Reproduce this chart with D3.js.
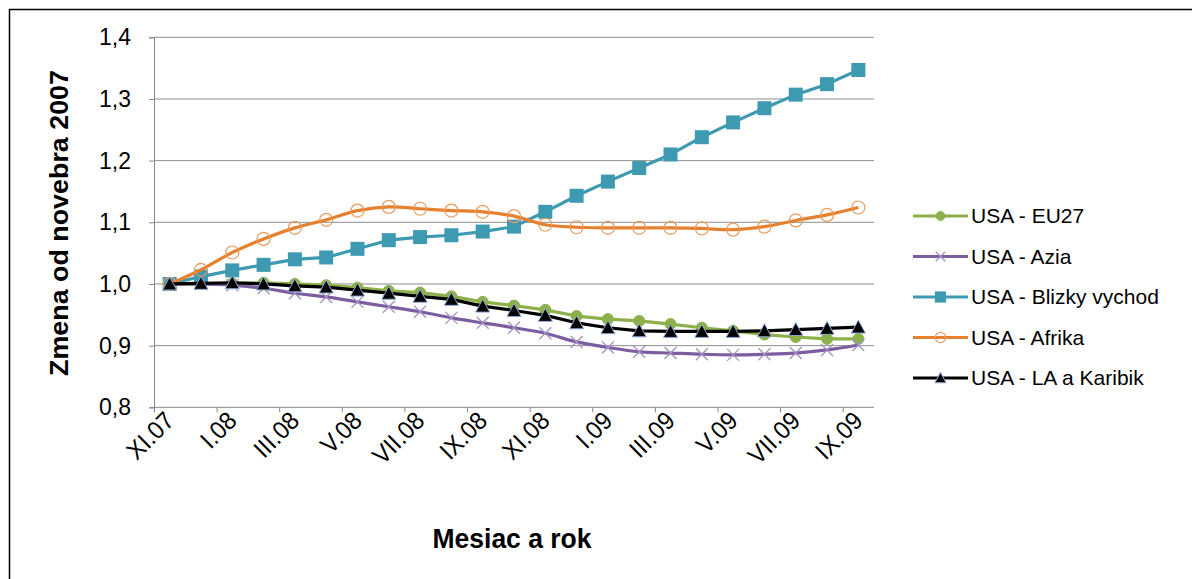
<!DOCTYPE html>
<html>
<head>
<meta charset="utf-8">
<script src="https://cdn.jsdelivr.net/npm/d3@7"></script>
<style>
  body { margin: 0; background: #fff; }
  svg { display: block; font-family: "Liberation Sans", Arial, sans-serif; }
</style>
</head>
<body>
<div id="chart"></div>
<script>
// months XI.07 .. IX.09
const months = ["XI.07", "XII.07", "I.08", "II.08", "III.08", "IV.08", "V.08", "VI.08",
  "VII.08", "VIII.08", "IX.08", "X.08", "XI.08", "XII.08", "I.09", "II.09", "III.09",
  "IV.09", "V.09", "VI.09", "VII.09", "VIII.09", "IX.09"];

const eu27 = [1.000, 1.000, 1.001, 1.002, 1.000, 0.998, 0.994, 0.989, 0.986, 0.980,
  0.971, 0.965, 0.958, 0.948, 0.943, 0.940, 0.935, 0.929, 0.924, 0.918, 0.914, 0.911, 0.911];
const azia = [1.000, 1.000, 0.998, 0.993, 0.985, 0.979, 0.971, 0.963, 0.955, 0.945,
  0.937, 0.929, 0.920, 0.906, 0.897, 0.890, 0.888, 0.886, 0.885, 0.886, 0.888, 0.893, 0.901];
const blizkyVychod = [1.000, 1.012, 1.022, 1.031, 1.040, 1.043, 1.057, 1.071, 1.076, 1.079,
  1.085, 1.093, 1.117, 1.143, 1.166, 1.188, 1.210, 1.238, 1.262, 1.285, 1.307, 1.324, 1.347];
const afrika = [1.000, 1.023, 1.051, 1.073, 1.091, 1.104, 1.119, 1.125, 1.122, 1.119,
  1.117, 1.110, 1.096, 1.092, 1.091, 1.091, 1.091, 1.090, 1.088, 1.093, 1.103, 1.112, 1.124];
const laKaribik = [1.000, 1.001, 1.002, 1.000, 0.997, 0.995, 0.990, 0.985, 0.980, 0.975,
  0.964, 0.957, 0.949, 0.937, 0.929, 0.924, 0.923, 0.923, 0.923, 0.924, 0.926, 0.928, 0.930];

const yTicks = [0.8, 0.9, 1.0, 1.1, 1.2, 1.3, 1.4];

const series = [
  { name: "USA - EU27", values: eu27, color: "#8cb04a", marker: "circle", smooth: false },
  { name: "USA - Azia", values: azia, color: "#7b5da0", marker: "cross", smooth: true },
  { name: "USA - Blizky vychod", values: blizkyVychod, color: "#3e9ab1", marker: "square", smooth: false },
  { name: "USA - Afrika", values: afrika, color: "#e5802f", marker: "ring", smooth: true },
  { name: "USA - LA a Karibik", values: laKaribik, color: "#000000", marker: "triangle", smooth: false }
];

const width = 1192, height = 579;
const svg = d3.select("#chart").append("svg")
  .attr("width", width)
  .attr("height", height);

// outer frame (right and bottom edges fall outside the picture)
svg.append("rect")
  .attr("x", 9.5).attr("y", 9.5)
  .attr("width", 1200).attr("height", 600)
  .attr("fill", "none")
  .attr("stroke", "#000")
  .attr("stroke-width", 1.5);

const x = d3.scaleBand().domain(months).range([154, 874]).padding(0);
const cx = (i) => x(months[i]) + x.bandwidth() / 2;
const y = d3.scaleLinear().domain([0.8, 1.4]).range([407.3, 37.3]);

// gridlines
svg.append("g")
  .selectAll("line")
  .data(yTicks.slice(1))
  .enter()
  .append("line")
  .attr("x1", 154).attr("x2", 874)
  .attr("y1", (d) => y(d)).attr("y2", (d) => y(d))
  .attr("stroke", "#8e8e8e")
  .attr("stroke-width", 1);

// y axis
const yAxis = svg.append("g")
  .attr("transform", "translate(154,0)")
  .call(d3.axisLeft(y)
    .tickValues(yTicks)
    .tickSize(5)
    .tickPadding(18)
    .tickFormat((d) => d3.format(".1f")(d).replace(".", ",")));
yAxis.select(".domain").attr("stroke", "#868686");
yAxis.selectAll(".tick line").attr("stroke", "#868686");
yAxis.selectAll("text")
  .attr("font-size", 23)
  .attr("fill", "#000")
  .attr("font-family", "Liberation Sans, Arial, sans-serif");

// x axis line + tick marks at every second category boundary
svg.append("line")
  .attr("x1", 154).attr("x2", 874)
  .attr("y1", y(0.8)).attr("y2", y(0.8))
  .attr("stroke", "#868686");

const labelIdx = d3.range(0, months.length, 2);
svg.append("g")
  .selectAll("line")
  .data(labelIdx)
  .enter()
  .append("line")
  .attr("x1", (i) => x(months[i]) + 0.5)
  .attr("x2", (i) => x(months[i]) + 0.5)
  .attr("y1", y(0.8)).attr("y2", y(0.8) + 5)
  .attr("stroke", "#868686");

// month labels, slightly squeezed along the baseline
svg.append("g")
  .selectAll("text")
  .data(labelIdx)
  .enter()
  .append("text")
  .attr("transform", (i) => `translate(${cx(i) + 6},${y(0.8) + 15}) rotate(-45) scale(0.94,1)`)
  .attr("text-anchor", "end")
  .attr("font-size", 25)
  .attr("fill", "#000")
  .text((i) => months[i]);

// axis titles
svg.append("text")
  .attr("transform", `translate(68,223) rotate(-90)`)
  .attr("text-anchor", "middle")
  .attr("font-size", 26)
  .attr("font-weight", "bold")
  .attr("textLength", 306)
  .attr("lengthAdjust", "spacingAndGlyphs")
  .text("Zmena od novebra 2007");

svg.append("text")
  .attr("x", 512).attr("y", 548)
  .attr("text-anchor", "middle")
  .attr("font-size", 27)
  .attr("font-weight", "bold")
  .attr("textLength", 159)
  .attr("lengthAdjust", "spacingAndGlyphs")
  .text("Mesiac a rok");

// markers
function drawMarker(g, s, px, py, scale) {
  const k = scale || 1;
  if (s.marker === "circle") {
    g.append("circle").attr("cx", px).attr("cy", py).attr("r", 5.5 * k)
      .attr("fill", s.color).attr("stroke", s.color);
  } else if (s.marker === "cross") {
    const r = 6 * k;
    g.append("path")
      .attr("d", `M${px - r},${py - r}L${px + r},${py + r}M${px - r},${py + r}L${px + r},${py - r}`)
      .attr("stroke", "#a393c4").attr("stroke-width", 1.3).attr("fill", "none");
  } else if (s.marker === "square") {
    const h = 7 * k;
    g.append("rect").attr("x", px - h).attr("y", py - h)
      .attr("width", 2 * h).attr("height", 2 * h)
      .attr("fill", s.color);
  } else if (s.marker === "ring") {
    g.append("circle").attr("cx", px).attr("cy", py).attr("r", 6.5 * k)
      .attr("fill", "none").attr("stroke", "#eb9a5c").attr("stroke-width", 1.2);
  } else if (s.marker === "triangle") {
    const h = 7 * k;
    g.append("path")
      .attr("d", `M${px},${py - h}L${px + h},${py + h * 0.85}L${px - h},${py + h * 0.85}Z`)
      .attr("fill", "#000").attr("stroke", "#8ea8d4").attr("stroke-width", 1);
  }
}

series.forEach((s) => {
  const g = svg.append("g");
  const line = d3.line()
    .x((d, i) => cx(i))
    .y((d) => y(d))
    .curve(s.smooth ? d3.curveCatmullRom.alpha(0) : d3.curveLinear);
  g.append("path")
    .datum(s.values)
    .attr("d", line)
    .attr("fill", "none")
    .attr("stroke", s.color)
    .attr("stroke-width", 3.2)
    .attr("stroke-linejoin", "round");
  s.values.forEach((v, i) => drawMarker(g, s, cx(i), y(v)));
});

// legend
const legend = svg.append("g");
series.forEach((s, i) => {
  const ly = 216 + i * 40.5;
  const row = legend.append("g");
  row.append("line")
    .attr("x1", 913).attr("x2", 968)
    .attr("y1", ly).attr("y2", ly)
    .attr("stroke", s.color).attr("stroke-width", 3.2);
  drawMarker(row, s, 940.5, ly, 0.8);
  row.append("text")
    .attr("x", 971).attr("y", ly + 7)
    .attr("font-size", 21)
    .attr("fill", "#000")
    .text(s.name);
});
</script>
</body>
</html>
